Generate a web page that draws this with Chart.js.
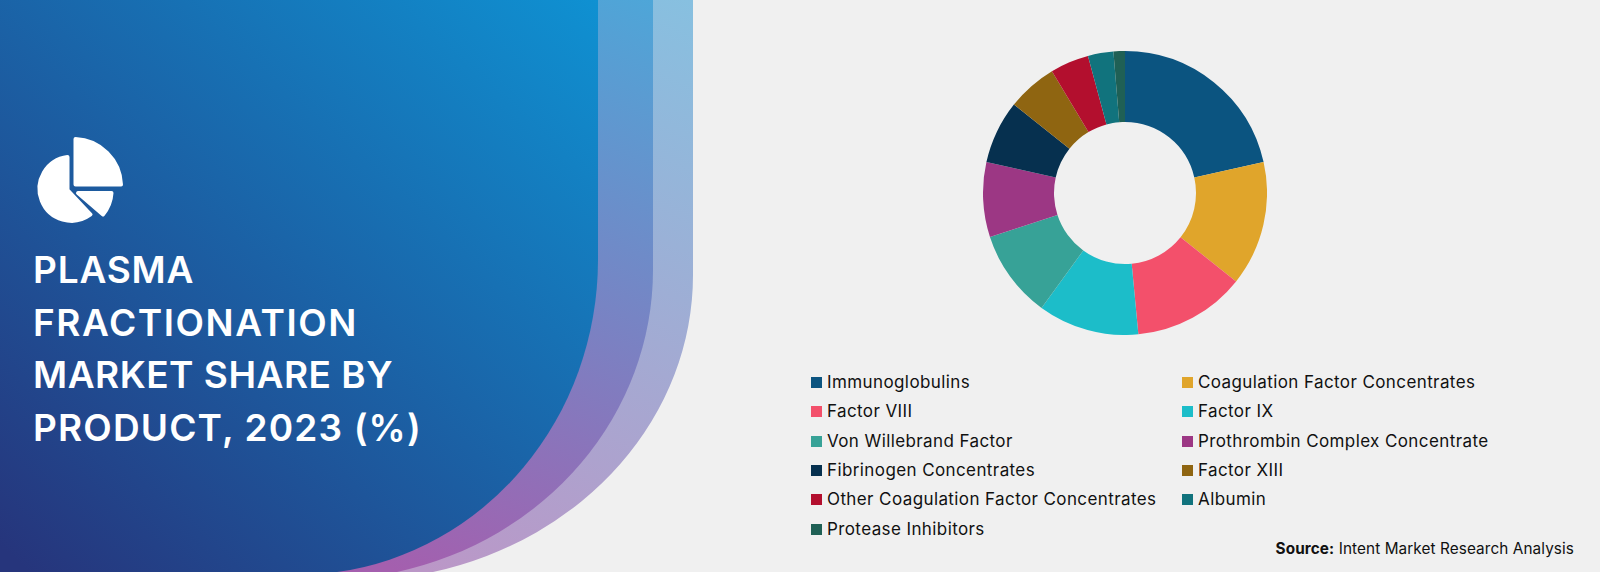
<!DOCTYPE html>
<html lang="en">
<head>
<meta charset="UTF-8">
<title>Plasma Fractionation Market Share by Product, 2023 (%)</title>
<script src="https://cdn.jsdelivr.net/npm/chart.js@4/dist/chart.umd.min.js"></script>
<style>
  html, body { margin: 0; padding: 0; background: #f0f0f0; overflow: hidden; }
  #page { position: relative; width: 1600px; height: 572px; font-family: Inter, sans-serif; color: #111; }
  #bg { position: absolute; left: 0; top: 0; }
  #chart { position: absolute; left: 983px; top: 51px; }
  .title { position: absolute; left: 33px; color: #fff; font-weight: 600; font-size: 37px; line-height: 53px; white-space: nowrap; }
  .item { position: absolute; font-size: 17px; line-height: 20px; letter-spacing: 0.4px; white-space: nowrap; }
  .swatch { position: absolute; width: 11px; height: 11px; }
  #source { position: absolute; right: 26px; top: 539px; font-size: 15.3px; line-height: 20px; letter-spacing: 0.1px; white-space: nowrap; }
  #source b { font-weight: 700; }
</style>
</head>
<body>
<div id="page">
  <svg id="bg" width="1600" height="572">
    <defs>
      <linearGradient id="g1" gradientUnits="userSpaceOnUse" x1="60" y1="600" x2="600" y2="0">
        <stop offset="0" stop-color="#26357c"/>
        <stop offset="1" stop-color="#0f91d2"/>
      </linearGradient>
      <linearGradient id="g2" gradientUnits="userSpaceOnUse" x1="400" y1="572" x2="650" y2="0">
        <stop offset="0" stop-color="#a45fae"/>
        <stop offset="1" stop-color="#4ea6d8"/>
      </linearGradient>
      <linearGradient id="g3" gradientUnits="userSpaceOnUse" x1="430" y1="572" x2="690" y2="0">
        <stop offset="0" stop-color="#bb97c7"/>
        <stop offset="1" stop-color="#87c0e0"/>
      </linearGradient>
    </defs>
    <path fill="url(#g3)" d="M0,0 H693 V275 A340,305.5 0 0 1 433,572 H0 Z"/>
    <path fill="url(#g2)" d="M0,0 H653 V270 A330,310 0 0 1 397,572 H0 Z"/>
    <path fill="url(#g1)" d="M0,0 H598 V260 A300,315 0 0 1 337,572 H0 Z"/>
    <!-- pie icon -->
    <g fill="#fff" stroke="#fff" stroke-width="4" stroke-linejoin="round">
      <path d="M75.5,139 A47.5,47.5 0 0 1 121,184.5 H75.5 Z"/>
      <path d="M67.5,157 A32,32 0 1 0 90.5,214.5 L67.5,190 Z"/>
      <path d="M78,193 H111.5 A37,37 0 0 1 103,214.5 Z"/>
    </g>
  </svg>
  <div class="title" style="top:243px;letter-spacing:0.8px">PLASMA</div>
  <div class="title" style="top:296px;letter-spacing:1.55px">FRACTIONATION</div>
  <div class="title" style="top:348px;letter-spacing:0.5px">MARKET SHARE BY</div>
  <div class="title" style="top:401px;letter-spacing:1.15px">PRODUCT, 2023 (%)</div>
  <canvas id="chart" width="284" height="284"></canvas>
  <div id="legend"></div>
  <div id="source"><b>Source:</b> Intent Market Research Analysis</div>
</div>

<script>
  const categories = [
    "Immunoglobulins", "Coagulation Factor Concentrates", "Factor VIII", "Factor IX",
    "Von Willebrand Factor", "Prothrombin Complex Concentrate", "Fibrinogen Concentrates",
    "Factor XIII", "Other Coagulation Factor Concentrates", "Albumin", "Protease Inhibitors"
  ]
  const shares = [21.5, 14.2, 12.8, 11.5, 10, 8.5, 7.2, 5.7, 4.4, 2.9, 1.3]
  const colors = [
    "#0b5480", "#e0a52b", "#f3506b", "#1cbdc9", "#37a297", "#9c3784",
    "#06304f", "#8f6511", "#b30f2e", "#11737d", "#1f6055"
  ]

  const chart = new Chart(document.getElementById("chart").getContext("2d"), {
    type: "doughnut",
    data: {
      labels: categories,
      datasets: [{ data: shares, backgroundColor: colors, borderWidth: 0 }]
    },
    options: {
      responsive: false,
      animation: false,
      cutout: "50%",
      layout: { padding: 0 },
      plugins: { legend: { display: false }, tooltip: { enabled: false } }
    }
  })

  /* Two column legend, built from the chart's own labels. */
  const legend = document.getElementById("legend")
  chart.data.labels.forEach((label, i) => {
    const col = i % 2
    const y = 382.5 + Math.floor(i / 2) * 29.3
    const swatch = document.createElement("div")
    swatch.className = "swatch"
    swatch.style.left = (col ? 1182 : 811) + "px"
    swatch.style.top = (y - 5.5) + "px"
    swatch.style.background = colors[i]
    const item = document.createElement("div")
    item.className = "item"
    item.style.left = (col ? 1198 : 827) + "px"
    item.style.top = (y - 10.5) + "px"
    item.textContent = label
    legend.appendChild(swatch)
    legend.appendChild(item)
  })
</script>
</body>
</html>
